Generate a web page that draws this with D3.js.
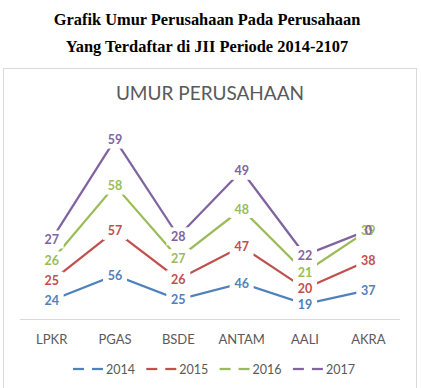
<!DOCTYPE html>
<html>
<head>
<meta charset="utf-8">
<script src="https://cdn.jsdelivr.net/npm/d3@7"></script>
<style>
  body { margin: 0; background: #fff; }
  svg { display: block; }
</style>
</head>
<body>
<div id="chart"></div>
<script>
// Data (stacked line chart, labels show each year's own value)
const companies = ['LPKR', 'PGAS', 'BSDE', 'ANTAM', 'AALI', 'AKRA'];
const years = ['2014', '2015', '2016', '2017'];
const umur2014 = [24, 56, 25, 46, 19, 37];
const umur2015 = [25, 57, 26, 47, 20, 38];
const umur2016 = [26, 58, 27, 48, 21, 39];
const umur2017 = [27, 59, 28, 49, 22, 0];
const colors = ['#4f81bd', '#c0504d', '#9bbb59', '#8064a2'];

const width = 421, height = 388;
const svg = d3.select('#chart').append('svg')
    .attr('width', width)
    .attr('height', height);

// Page headings
const heading = ['Grafik Umur Perusahaan Pada Perusahaan', 'Yang Terdaftar di JII Periode 2014-2107'];
svg.selectAll('text.heading')
    .data(heading)
    .enter()
    .append('text')
    .attr('class', 'heading')
    .attr('x', 207)
    .attr('y', (d, i) => 25 + i * 27)
    .attr('text-anchor', 'middle')
    .attr('font-family', '"Liberation Serif", "Times New Roman", serif')
    .attr('font-weight', 'bold')
    .attr('font-size', '16.4px')
    .attr('fill', '#000')
    .text(d => d);

// Chart box
svg.append('rect')
    .attr('x', 3.5).attr('y', 68.5)
    .attr('width', 413).attr('height', 330)
    .attr('fill', '#fff')
    .attr('stroke', '#d9d9d9');

svg.append('text')
    .attr('x', 210).attr('y', 100)
    .attr('text-anchor', 'middle')
    .attr('font-family', 'Lato, sans-serif')
    .attr('font-size', '19px')
    .attr('fill', '#595959')
    .text('UMUR PERUSAHAAN');

// Scales
const x = d3.scaleBand().domain(companies).range([20, 400]);
const y = d3.scaleLinear().domain([0, 250]).range([319, 124]);

const rows = companies.map((c, i) => ({
    company: c,
    '2014': umur2014[i], '2015': umur2015[i], '2016': umur2016[i], '2017': umur2017[i]
}));
const stacked = d3.stack().keys(years)(rows);

// Category axis
svg.append('line')
    .attr('x1', 20).attr('x2', 400)
    .attr('y1', 319.5).attr('y2', 319.5)
    .attr('stroke', '#d9d9d9');

const xAxis = svg.append('g')
    .attr('transform', 'translate(0,319)')
    .call(d3.axisBottom(x).tickSize(0).tickPadding(16));
xAxis.select('.domain').remove();
xAxis.selectAll('text')
    .attr('font-family', 'Lato, sans-serif')
    .attr('font-size', '13px')
    .attr('fill', '#595959');

// Lines
const line = d3.line()
    .x(d => x(d.data.company) + x.bandwidth() / 2)
    .y(d => y(d[1]));

svg.selectAll('path.series')
    .data(stacked)
    .enter()
    .append('path')
    .attr('class', 'series')
    .attr('d', line)
    .attr('fill', 'none')
    .attr('stroke', (d, i) => colors[i])
    .attr('stroke-width', 2.25);

// Data labels (white background behind, then text)
const labels = [];
stacked.forEach((s, si) => {
    s.forEach(d => {
        labels.push({
            x: x(d.data.company) + x.bandwidth() / 2,
            y: y(d[1]),
            value: d.data[s.key],
            color: colors[si]
        });
    });
});

svg.selectAll('rect.lblbg')
    .data(labels)
    .enter()
    .append('rect')
    .attr('class', 'lblbg')
    .attr('x', d => d.x - 12)
    .attr('y', d => d.y - 9)
    .attr('width', 24)
    .attr('height', 18)
    .attr('fill', '#fff');

svg.selectAll('text.lbl')
    .data(labels)
    .enter()
    .append('text')
    .attr('class', 'lbl')
    .attr('x', d => d.x)
    .attr('y', d => d.y + 4.5)
    .attr('text-anchor', 'middle')
    .attr('font-family', 'Lato, sans-serif')
    .attr('font-weight', 'bold')
    .attr('font-size', '12.5px')
    .attr('fill', d => d.color)
    .text(d => d.value);

// Legend
const legend = svg.selectAll('g.legend')
    .data(years)
    .enter()
    .append('g')
    .attr('class', 'legend')
    .attr('transform', (d, i) => `translate(${73 + i * 73.3},369)`);

legend.append('line')
    .attr('x1', 0).attr('x2', 11)
    .attr('stroke', (d, i) => colors[i])
    .attr('stroke-width', 2.25);
legend.append('line')
    .attr('x1', 19).attr('x2', 30)
    .attr('stroke', (d, i) => colors[i])
    .attr('stroke-width', 2.25);
legend.append('text')
    .attr('x', 33)
    .attr('y', 4.5)
    .attr('font-family', 'Lato, sans-serif')
    .attr('font-size', '12.5px')
    .attr('fill', '#595959')
    .text(d => d);
</script>
</body>
</html>
